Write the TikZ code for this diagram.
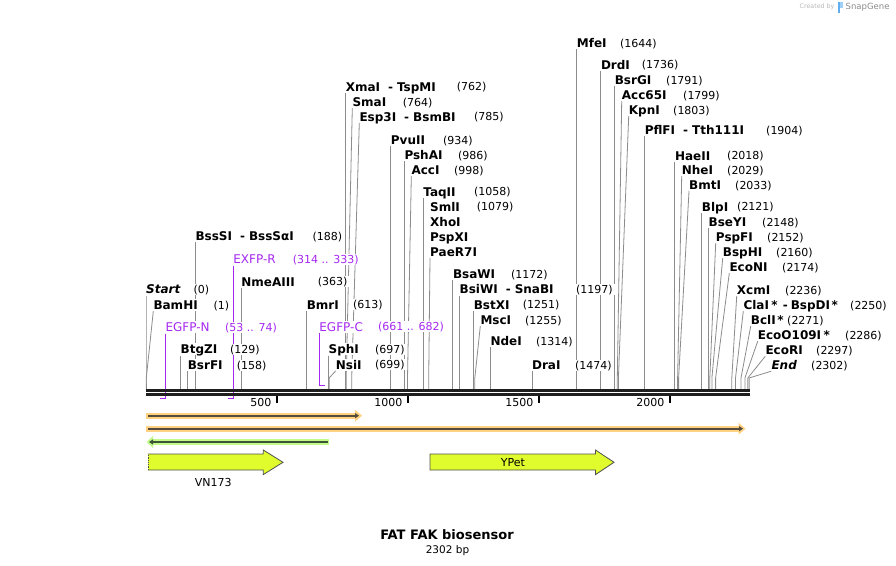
\documentclass[tikz,border=0pt]{standalone}
\usepackage{fontspec}
\setmainfont{DejaVu Sans}
\usetikzlibrary{arrows.meta}
\pgfdeclarelayer{bg}
\pgfsetlayers{bg,main}
\definecolor{cutline}{RGB}{140,140,140}
\definecolor{primer}{RGB}{165,40,240}
\definecolor{bandorange}{RGB}{255,210,130}
\definecolor{bandgreen}{RGB}{195,250,140}
\definecolor{bandline}{RGB}{85,75,60}
\definecolor{greenline}{RGB}{60,85,55}
\definecolor{featyellow}{RGB}{224,252,45}
\definecolor{featedge}{RGB}{80,80,80}
\definecolor{logoblue}{RGB}{95,175,240}
\begin{document}
\begin{tikzpicture}[x=1pt,y=-1pt,
  enz/.style={anchor=west,fill=white,inner xsep=0pt,inner ysep=1.5pt,text height=9pt,text depth=0pt,font=\fontsize{12}{12}\selectfont\bfseries},
  num/.style={anchor=west,fill=white,inner xsep=2pt,xshift=-2pt,inner ysep=1.5pt,text height=8pt,text depth=0pt,font=\fontsize{11}{11}\selectfont},
  cut/.style={draw=cutline,line width=0.8pt},
  prim/.style={enz,text=primer,font=\fontsize{12}{12}\selectfont},
  primnum/.style={num,text=primer},
  primline/.style={draw=primer,line width=1.3pt},
  strand/.style={line width=2.7pt,black!88},
  tickmark/.style={line width=1.6pt,black},
  featbox/.style={fill=featyellow,draw=featedge,line width=0.8pt},
  featlabel/.style={inner sep=0pt,font=\fontsize{11}{11}\selectfont}]
\useasboundingbox (0,0) rectangle (896,565);
% sites on the backbone
\coordinate (s0) at (146.0,390);
\coordinate (s1) at (146.3,390);
\coordinate (s129) at (180.5,390);
\coordinate (s158) at (187.6,390);
\coordinate (s188) at (195.3,390);
\coordinate (s363) at (241.2,390);
\coordinate (s613) at (306.6,390);
\coordinate (s697) at (328.5,390);
\coordinate (s699) at (329.1,390);
\coordinate (s762) at (345.6,390);
\coordinate (s764) at (346.2,390);
\coordinate (s785) at (351.7,390);
\coordinate (s934) at (390.7,390);
\coordinate (s986) at (404.3,390);
\coordinate (s998) at (407.5,390);
\coordinate (s1058) at (423.2,390);
\coordinate (s1079) at (428.7,390);
\coordinate (s1172) at (452.8,390);
\coordinate (s1197) at (459.5,390);
\coordinate (s1251) at (473.6,390);
\coordinate (s1255) at (474.8,390);
\coordinate (s1314) at (490.3,390);
\coordinate (s1474) at (531.9,390);
\coordinate (s1644) at (576.7,390);
\coordinate (s1736) at (600.8,390);
\coordinate (s1791) at (614.6,390);
\coordinate (s1799) at (617.3,390);
\coordinate (s1803) at (618.4,390);
\coordinate (s1904) at (644.6,390);
\coordinate (s2018) at (674.8,390);
\coordinate (s2029) at (677.6,390);
\coordinate (s2033) at (678.6,390);
\coordinate (s2121) at (701.7,390);
\coordinate (s2148) at (708.5,390);
\coordinate (s2152) at (709.8,390);
\coordinate (s2160) at (711.9,390);
\coordinate (s2174) at (715.6,390);
\coordinate (s2236) at (731.8,390);
\coordinate (s2250) at (735.5,390);
\coordinate (s2271) at (741.0,390);
\coordinate (s2286) at (744.9,390);
\coordinate (s2297) at (747.8,390);
\coordinate (s2302) at (749.1,390);
% enzyme labels
\node[enz] (l0) at (146.0,289.3) {\itshape Start};
\node[num] (n0) at (193.3,289.3) {(0)};
\node[enz] (l1) at (153.3,305) {BamHI};
\node[num] (n1) at (213.3,305) {(1)};
\node[enz] (l129) at (180.5,349.3) {BtgZI};
\node[num] (n129) at (230,349.3) {(129)};
\node[enz] (l158) at (187.6,365) {BsrFI};
\node[num] (n158) at (236.7,365) {(158)};
\node[enz] (l188) at (195.3,236) {BssSI\hspace{8pt}-\hspace{4pt}BssSαI};
\node[num] (n188) at (312.3,236) {(188)};
\node[enz] (l363) at (241.2,281.7) {NmeAIII};
\node[num] (n363) at (317.7,281.7) {(363)};
\node[enz] (l613) at (306.6,304.7) {BmrI};
\node[num] (n613) at (353,304.7) {(613)};
\node[enz] (l697) at (328.5,349.3) {SphI};
\node[num] (n697) at (375,349.3) {(697)};
\node[enz] (l699) at (335.7,364.7) {NsiI};
\node[num] (n699) at (375,364.7) {(699)};
\node[enz] (l762) at (345.6,86.7) {XmaI\hspace{8pt}-\hspace{4pt}TspMI};
\node[num] (n762) at (456.7,86.7) {(762)};
\node[enz] (l764) at (352.3,102) {SmaI};
\node[num] (n764) at (402.7,102) {(764)};
\node[enz] (l785) at (359.3,116.7) {Esp3I\hspace{8pt}-\hspace{4pt}BsmBI};
\node[num] (n785) at (474,116.7) {(785)};
\node[enz] (l934) at (390.7,140) {PvuII};
\node[num] (n934) at (443,140) {(934)};
\node[enz] (l986) at (404.3,155) {PshAI};
\node[num] (n986) at (458,155) {(986)};
\node[enz] (l998) at (411.3,170) {AccI};
\node[num] (n998) at (454,170) {(998)};
\node[enz] (l1058) at (423.2,191.7) {TaqII};
\node[num] (n1058) at (474,191.7) {(1058)};
\node[enz] (l1079a) at (430,206.7) {SmlI};
\node[num] (n1079) at (476.7,206.7) {(1079)};
\node[enz] (l1079b) at (430,221.7) {XhoI};
\node[enz] (l1079c) at (430,236.7) {PspXI};
\node[enz] (l1079d) at (430,251.7) {PaeR7I};
\node[enz] (l1172) at (452.8,274) {BsaWI};
\node[num] (n1172) at (511,274) {(1172)};
\node[enz] (l1197) at (459.5,289.3) {BsiWI\hspace{8pt}-\hspace{4pt}SnaBI};
\node[num] (n1197) at (576,289.3) {(1197)};
\node[enz] (l1251) at (473.6,304.7) {BstXI};
\node[num] (n1251) at (522.7,304.7) {(1251)};
\node[enz] (l1255) at (480.3,320) {MscI};
\node[num] (n1255) at (525,320) {(1255)};
\node[enz] (l1314) at (490.3,341) {NdeI};
\node[num] (n1314) at (536,341) {(1314)};
\node[enz] (l1474) at (531.9,365) {DraI};
\node[num] (n1474) at (575,365) {(1474)};
\node[enz] (l1644) at (576.7,43) {MfeI};
\node[num] (n1644) at (620,43) {(1644)};
\node[enz] (l1736) at (600.8,64.7) {DrdI};
\node[num] (n1736) at (641.7,64.7) {(1736)};
\node[enz] (l1791) at (614.6,80) {BsrGI};
\node[num] (n1791) at (666,80) {(1791)};
\node[enz] (l1799) at (621.7,95) {Acc65I};
\node[num] (n1799) at (683,95) {(1799)};
\node[enz] (l1803) at (628.7,110) {KpnI};
\node[num] (n1803) at (673,110) {(1803)};
\node[enz] (l1904) at (644.6,130) {PflFI\hspace{8pt}-\hspace{4pt}Tth111I};
\node[num] (n1904) at (766,130) {(1904)};
\node[enz] (l2018) at (674.8,155.7) {HaeII};
\node[num] (n2018) at (727,155.7) {(2018)};
\node[enz] (l2029) at (681.7,170) {NheI};
\node[num] (n2029) at (727,170) {(2029)};
\node[enz] (l2033) at (689,185) {BmtI};
\node[num] (n2033) at (735,185) {(2033)};
\node[enz] (l2121) at (701.7,206.7) {BlpI};
\node[num] (n2121) at (737,206.7) {(2121)};
\node[enz] (l2148) at (708.5,222) {BseYI};
\node[num] (n2148) at (762,222) {(2148)};
\node[enz] (l2152) at (715.7,237) {PspFI};
\node[num] (n2152) at (767,237) {(2152)};
\node[enz] (l2160) at (722.7,252) {BspHI};
\node[num] (n2160) at (776,252) {(2160)};
\node[enz] (l2174) at (729.3,267) {EcoNI};
\node[num] (n2174) at (782,267) {(2174)};
\node[enz] (l2236) at (736.7,290) {XcmI};
\node[num] (n2236) at (785,290) {(2236)};
\node[enz] (l2250) at (743.3,305) {ClaI\hspace{2.5pt}*\hspace{5pt}-\hspace{3pt}BspDI\hspace{1.5pt}*};
\node[num] (n2250) at (850,305) {(2250)};
\node[enz] (l2271) at (750.7,320) {BclI\hspace{1.5pt}*};
\node[num] (n2271) at (787,320) {(2271)};
\node[enz] (l2286) at (757.7,335) {EcoO109I\hspace{2.5pt}*};
\node[num] (n2286) at (845,335) {(2286)};
\node[enz] (l2297) at (765.3,350) {EcoRI};
\node[num] (n2297) at (816,350) {(2297)};
\node[enz] (l2302) at (771.3,365) {\itshape End};
\node[num] (n2302) at (811,365) {(2302)};
% primers
\node[prim] (pN) at (165.4,327.3) {EGFP-N};
\node[primnum] (qN) at (225,327.3) {(53 .. 74)};
\node[prim] (pR) at (233.2,259.3) {EXFP-R};
\node[primnum] (qR) at (292.7,259.3) {(314 .. 333)};
\node[prim] (pC) at (319.2,326.7) {EGFP-C};
\node[primnum] (qC) at (378,326.7) {(661 .. 682)};
\coordinate (bN) at (165.4,398.8);
\coordinate (cN) at (159.6,398.8);
\coordinate (bR) at (233.2,398.8);
\coordinate (cR) at (227.8,398.8);
\coordinate (bC) at (319.2,385.2);
\coordinate (cC) at (324.8,385.2);
\begin{pgfonlayer}{bg}
\fill[white] (0,0) rectangle (896,565);
\draw[primline] (pN.south west) to (bN) to (cN);
\draw[primline] (pR.south west) to (bR) to (cR);
\draw[primline] (pC.south west) to (bC) to (cC);
% cut lines
\draw[cut] (l0.south west) to ([yshift=12pt]s0) to (s0);
\draw[cut] (l1.south west) to ([yshift=12pt]s1) to (s1);
\draw[cut] (l129.south west) to ([yshift=12pt]s129) to (s129);
\draw[cut] (l158.south west) to ([yshift=12pt]s158) to (s158);
\draw[cut] (l188.south west) to ([yshift=12pt]s188) to (s188);
\draw[cut] (l363.south west) to ([yshift=12pt]s363) to (s363);
\draw[cut] (l613.south west) to ([yshift=12pt]s613) to (s613);
\draw[cut] (l697.south west) to ([yshift=12pt]s697) to (s697);
\draw[cut] (l699.south west) to ([yshift=12pt]s699) to (s699);
\draw[cut] (l762.south west) to ([yshift=12pt]s762) to (s762);
\draw[cut] (l764.south west) to ([yshift=12pt]s764) to (s764);
\draw[cut] (l785.south west) to ([yshift=12pt]s785) to (s785);
\draw[cut] (l934.south west) to ([yshift=12pt]s934) to (s934);
\draw[cut] (l986.south west) to ([yshift=12pt]s986) to (s986);
\draw[cut] (l998.south west) to ([yshift=12pt]s998) to (s998);
\draw[cut] (l1058.south west) to ([yshift=12pt]s1058) to (s1058);
\draw[cut] (l1079d.south west) to ([yshift=12pt]s1079) to (s1079);
\draw[cut] (l1172.south west) to ([yshift=12pt]s1172) to (s1172);
\draw[cut] (l1197.south west) to ([yshift=12pt]s1197) to (s1197);
\draw[cut] (l1251.south west) to ([yshift=12pt]s1251) to (s1251);
\draw[cut] (l1255.south west) to ([yshift=12pt]s1255) to (s1255);
\draw[cut] (l1314.south west) to ([yshift=12pt]s1314) to (s1314);
\draw[cut] (l1474.south west) to ([yshift=12pt]s1474) to (s1474);
\draw[cut] (l1644.south west) to ([yshift=12pt]s1644) to (s1644);
\draw[cut] (l1736.south west) to ([yshift=12pt]s1736) to (s1736);
\draw[cut] (l1791.south west) to ([yshift=12pt]s1791) to (s1791);
\draw[cut] (l1799.south west) to ([yshift=12pt]s1799) to (s1799);
\draw[cut] (l1803.south west) to ([yshift=12pt]s1803) to (s1803);
\draw[cut] (l1904.south west) to ([yshift=12pt]s1904) to (s1904);
\draw[cut] (l2018.south west) to ([yshift=12pt]s2018) to (s2018);
\draw[cut] (l2029.south west) to ([yshift=12pt]s2029) to (s2029);
\draw[cut] (l2033.south west) to ([yshift=12pt]s2033) to (s2033);
\draw[cut] (l2121.south west) to ([yshift=12pt]s2121) to (s2121);
\draw[cut] (l2148.south west) to ([yshift=12pt]s2148) to (s2148);
\draw[cut] (l2152.south west) to ([yshift=12pt]s2152) to (s2152);
\draw[cut] (l2160.south west) to ([yshift=12pt]s2160) to (s2160);
\draw[cut] (l2174.south west) to ([yshift=12pt]s2174) to (s2174);
\draw[cut] (l2236.south west) to ([yshift=12pt]s2236) to (s2236);
\draw[cut] (l2250.south west) to ([yshift=12pt]s2250) to (s2250);
\draw[cut] (l2271.south west) to ([yshift=12pt]s2271) to (s2271);
\draw[cut] (l2286.south west) to ([yshift=12pt]s2286) to (s2286);
\draw[cut] (l2297.south west) to ([yshift=12pt]s2297) to (s2297);
\draw[cut] (l2302.south west) to ([yshift=12pt]s2302) to (s2302);
\end{pgfonlayer}
% backbone and ruler
\draw[strand] (146,390.35) -- (749.5,390.35);
\draw[strand] (146,394.35) -- (749.5,394.35);
\draw[tickmark] (276.8,396) -- (276.8,403);
\draw[tickmark] (407.8,396) -- (407.8,403);
\draw[tickmark] (538.8,396) -- (538.8,403);
\draw[tickmark] (669.8,396) -- (669.8,403);
\node[num,anchor=east,xshift=2pt] (m500) at (273.5,402) {500};
\node[num,anchor=east,xshift=2pt] (m1000) at (404.5,402) {1000};
\node[num,anchor=east,xshift=2pt] (m1500) at (535.5,402) {1500};
\node[num,anchor=east,xshift=2pt] (m2000) at (666.5,402) {2000};
% feature bands
\draw[line width=6pt,bandorange] (146,415.7) -- (355,415.7);
\fill[bandorange] (355,409.7) -- (362,415.7) -- (355,421.7) -- cycle;
\draw[line width=2pt,bandline,-{Triangle[length=4pt,width=5pt]}] (148,415.7) -- (359,415.7);
\draw[line width=6pt,bandorange] (146,428.7) -- (738.5,428.7);
\fill[bandorange] (738.5,422.7) -- (745.5,428.7) -- (738.5,434.7) -- cycle;
\draw[line width=2pt,bandline,-{Triangle[length=4pt,width=5pt]}] (148,428.7) -- (743,428.7);
\draw[line width=6pt,bandgreen] (153,442) -- (329,442);
\fill[bandgreen] (153,436) -- (146.5,442) -- (153,448) -- cycle;
\draw[line width=2pt,greenline,-{Triangle[length=4pt,width=5pt]}] (327.5,442) -- (149,442);
% features
\fill[featyellow] (148,454) -- (263.3,454) -- (263.3,450) -- (283,462.3) -- (263.3,474.6) -- (263.3,470) -- (148,470) -- cycle;
\draw[draw=featedge,line width=0.8pt] (148,454) -- (263.3,454) -- (263.3,450) -- (283,462.3) -- (263.3,474.6) -- (263.3,470) -- (148,470);
\draw[draw=featedge,line width=0.8pt,densely dotted] (148,470) -- (148,454);
\draw[featbox] (430,454) -- (595.5,454) -- (595.5,450) -- (614,462.3) -- (595.5,474.6) -- (595.5,470) -- (430,470) -- cycle;
\node[featlabel] (fV) at (213.3,482.5) {VN173};
\node[featlabel] (fY) at (513,462.3) {YPet};
% title
\node[inner sep=0pt,font=\fontsize{13}{13}\selectfont\bfseries] (title) at (447,535) {FAT FAK biosensor};
\node[inner sep=0pt,font=\fontsize{10.5}{10.5}\selectfont] (length) at (447.5,550.5) {2302 bp};
% logo
\node[anchor=west,inner sep=0pt,text=black!28,font=\fontsize{6.3}{6.3}\selectfont] (made) at (799.5,7) {Created by};
\fill[logoblue] (838,12.5) rectangle (840.3,2);
\fill[logoblue!60] (840.3,2) rectangle (843.3,8);
\node[anchor=west,inner sep=0pt,text=black!45,font=\fontsize{8.5}{8.5}\selectfont] (brand) at (845.5,7) {SnapGene};
\end{tikzpicture}
\end{document}
